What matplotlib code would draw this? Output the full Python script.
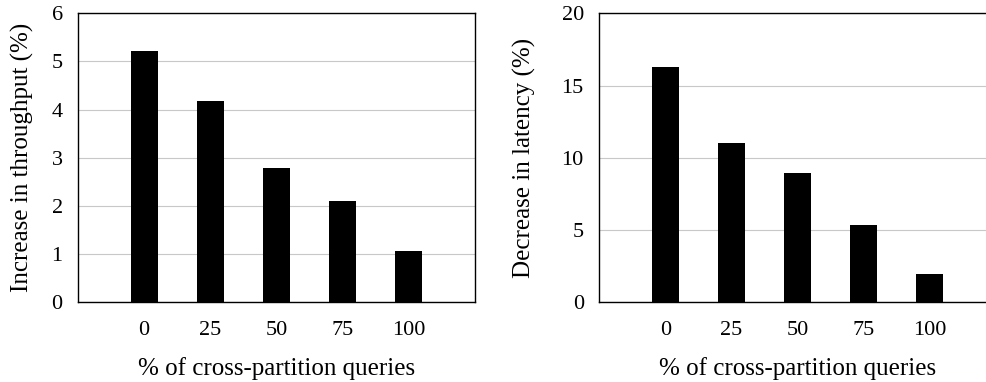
import matplotlib.pyplot as plt

plt.rcParams['font.family'] = 'Liberation Serif'

cross_pct = ['0', '25', '50', '75', '100']
throughput_gain = [5.22, 4.17, 2.78, 2.10, 1.06]
latency_drop = [16.25, 11.04, 8.92, 5.32, 1.97]

fig = plt.figure(figsize=(9.87, 3.82), dpi=100)
ax1 = fig.add_axes([0.079, 0.2094, 0.402, 0.7557])
ax2 = fig.add_axes([0.607, 0.2094, 0.402, 0.7557])

pos = range(1, len(cross_pct) + 1)

for ax, vals, ymax, step, ylab, ylab_x in [
        (ax1, throughput_gain, 6, 1, 'Increase in throughput (%)', -0.11),
        (ax2, latency_drop, 20, 5, 'Decrease in latency (%)', -0.16)]:
    ax.bar(pos, vals, width=0.41, color='black', zorder=3)
    ax.set_xlim(0, 6)
    ax.set_ylim(0, ymax)
    ax.set_yticks(range(0, ymax + 1, step))
    ax.set_xticks(list(pos))
    ax.set_xticklabels(cross_pct)
    ax.yaxis.grid(True, color='#c8c8c8', linewidth=0.8, zorder=0)
    ax.tick_params(length=0, labelsize=16)
    ax.tick_params(axis='x', pad=14)
    ax.tick_params(axis='y', pad=11)
    for s in ax.spines.values():
        s.set_linewidth(1.0)
    ax.set_xlabel('% of cross-partition queries', fontsize=18, labelpad=12)
    ax.set_ylabel(ylab, fontsize=18)
    ax.yaxis.set_label_coords(ylab_x, 0.5)

fig.savefig('out.png', dpi=100)
